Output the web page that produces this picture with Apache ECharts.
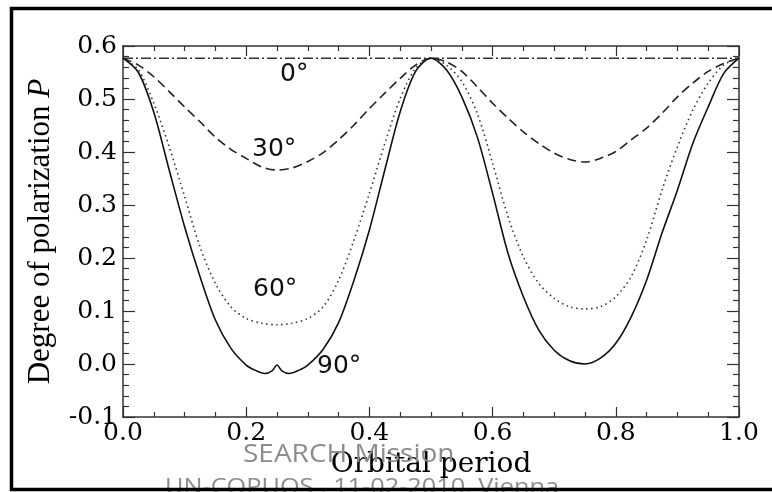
<!DOCTYPE html>
<html>
<head>
<meta charset="utf-8">
<script src="https://cdn.jsdelivr.net/npm/echarts@6/dist/echarts.min.js"></script>
<style>
html,body{margin:0;padding:0;background:#fff;}
#chart{width:772px;height:492px;}
</style>
</head>
<body>
<div id="chart"></div>
<script>
// ---- data ----
var phase = [0,0.025,0.05,0.075,0.1,0.125,0.15,0.175,0.2,0.225,0.25,0.275,0.3,0.325,0.35,0.375,0.4,0.425,0.45,0.475,0.5,
             0.525,0.55,0.575,0.6,0.625,0.65,0.675,0.7,0.725,0.75,0.775,0.8,0.825,0.85,0.875,0.9,0.925,0.95,0.975,1.0];
var p0  = [0.577,0.577,0.577,0.577,0.577,0.577,0.577,0.577,0.577,0.577,0.577,0.577,0.577,0.577,0.577,0.577,0.577,0.577,0.577,0.577,0.577,
           0.577,0.577,0.577,0.577,0.577,0.577,0.577,0.577,0.577,0.577,0.577,0.577,0.577,0.577,0.577,0.577,0.577,0.577,0.577,0.577];
var p30 = [0.577,0.564,0.542,0.514,0.485,0.457,0.428,0.405,0.388,0.372,0.366,0.370,0.382,0.399,0.423,0.451,0.482,0.511,0.539,0.564,0.577,
           0.570,0.552,0.523,0.492,0.464,0.438,0.416,0.398,0.386,0.381,0.388,0.401,0.423,0.445,0.473,0.504,0.530,0.552,0.567,0.577];
var p60 = [0.577,0.555,0.492,0.410,0.316,0.221,0.152,0.108,0.086,0.077,0.074,0.077,0.086,0.108,0.158,0.234,0.322,0.416,0.501,0.558,0.577,
           0.564,0.533,0.473,0.379,0.278,0.202,0.152,0.124,0.108,0.104,0.108,0.127,0.165,0.234,0.328,0.410,0.479,0.530,0.564,0.577];
var phase90 = [0,0.025,0.05,0.075,0.1,0.125,0.15,0.175,0.2,0.215,0.23,0.242,0.25,0.258,0.27,0.285,0.3,0.325,0.35,0.375,0.4,0.425,0.45,0.475,0.5,
               0.525,0.55,0.575,0.6,0.625,0.65,0.675,0.7,0.725,0.75,0.775,0.8,0.825,0.85,0.875,0.9,0.925,0.95,0.975,1.0];
var p90 = [0.577,0.550,0.475,0.366,0.259,0.165,0.083,0.030,-0.002,-0.012,-0.018,-0.013,-0.002,-0.013,-0.018,-0.012,-0.002,0.028,0.078,0.158,0.253,0.366,0.476,0.552,0.577,
           0.555,0.504,0.429,0.322,0.209,0.127,0.064,0.026,0.006,0.000,0.011,0.039,0.089,0.158,0.247,0.328,0.416,0.485,0.548,0.577];
var xTicks = {min: 0, max: 1, step: 0.2};
var yTicks = {min: -0.1, max: 0.6, step: 0.1};
var curveLabels = ['0°', '30°', '60°', '90°'];
var xTitle = 'Orbital period';
var yTitle = 'Degree of polarization ';
var yTitleItalic = 'P';
var footer1 = 'SEARCH Mission';
var footer2 = 'UN-COPUOS , 11-02-2010, Vienna';

function pairs(xs, ys){ return xs.map(function(x,i){ return [x, ys[i]]; }); }

var chart = echarts.init(document.getElementById('chart'), null, {renderer:'canvas'});
var serif = 'DejaVu Serif';
var axisCol = '#333';

var baseX = {
  type:'value', min:xTicks.min, max:xTicks.max, interval:xTicks.step,
  axisLine:{show:true, onZero:false, lineStyle:{color:axisCol, width:1.5}},
  axisTick:{show:true, inside:true, length:10, lineStyle:{color:axisCol, width:1.2}},
  minorTick:{show:true, splitNumber:4, length:5, lineStyle:{color:axisCol, width:1.2}},
  splitLine:{show:false}
};
var baseY = {
  type:'value', min:yTicks.min, max:yTicks.max, interval:yTicks.step,
  axisLine:{show:true, onZero:false, lineStyle:{color:axisCol, width:1.5}},
  axisTick:{show:true, inside:true, length:12, lineStyle:{color:axisCol, width:1.2}},
  minorTick:{show:true, splitNumber:5, length:6, lineStyle:{color:axisCol, width:1.2}},
  splitLine:{show:false}
};

var option = {
  backgroundColor:'#fff',
  animation:false,
  grid:{left:123, right:33, top:46, bottom:75, containLabel:false},
  xAxis:[
    Object.assign({}, baseX, {
      position:'bottom',
      axisLabel:{show:true, margin:4, fontFamily:serif, fontSize:25, color:'#000',
                 formatter:function(v){ return v.toFixed(1); }},
      name:xTitle, nameLocation:'middle', nameGap:24,
      nameTextStyle:{fontFamily:serif, fontSize:28, color:'#000'}
    }),
    Object.assign({}, baseX, {position:'top', axisLabel:{show:false}})
  ],
  yAxis:[
    Object.assign({}, baseY, {
      position:'left',
      axisLabel:{show:true, margin:6, fontFamily:serif, fontSize:25, color:'#000',
                 formatter:function(v){ return v.toFixed(1); }},
      name:'{n|' + yTitle + '}{i|' + yTitleItalic + '}', nameLocation:'middle', nameGap:67, nameRotate:90,
      nameTextStyle:{rich:{
        n:{fontFamily:'Liberation Serif', fontSize:31, color:'#000'},
        i:{fontFamily:'Liberation Serif', fontSize:31, fontStyle:'italic', color:'#000'}
      }}
    }),
    Object.assign({}, baseY, {position:'right', axisLabel:{show:false}})
  ],
  series:[
    {type:'line', name:curveLabels[0], data:pairs(phase,p0), showSymbol:false, symbol:'none',
     lineStyle:{color:'#333', width:1.6, type:[10,3,2,3]}},
    {type:'line', name:curveLabels[1], data:pairs(phase,p30), showSymbol:false, symbol:'none', smooth:0.3,
     lineStyle:{color:'#222', width:1.6, type:[9,5]}},
    {type:'line', name:curveLabels[2], data:pairs(phase,p60), showSymbol:false, symbol:'none', smooth:0.3,
     lineStyle:{color:'#333', width:1.6, type:[1.5,3.5]}},
    {type:'line', name:curveLabels[3], data:pairs(phase90,p90), showSymbol:false, symbol:'none', smooth:0.3,
     lineStyle:{color:'#111', width:1.6}}
  ],
  graphic:[
    {type:'text', left:280, top:62, style:{text:curveLabels[0], font:'25px "DejaVu Sans"', fill:'#111'}},
    {type:'text', left:252, top:137, style:{text:curveLabels[1], font:'25px "DejaVu Sans"', fill:'#111'}},
    {type:'text', left:253, top:277, style:{text:curveLabels[2], font:'25px "DejaVu Sans"', fill:'#111'}},
    {type:'text', left:317, top:354, style:{text:curveLabels[3], font:'25px "DejaVu Sans"', fill:'#111'}},
    {type:'text', x:243, y:442, scaleX:1.12, z:50, style:{text:footer1, font:'25px "Open Sans"', fill:'#8c8c8c'}},
    {type:'text', x:165, y:477, scaleX:1.15, z:50, style:{text:footer2, font:'22px "Open Sans"', fill:'#8c8c8c'}},
    {type:'polyline', z:100, shape:{points:[[780,8.5],[11.5,8.5],[11.5,489.5],[780,489.5]]},
     style:{fill:null, stroke:'#000', lineWidth:3.5}}
  ]
};
chart.setOption(option);
</script>
</body>
</html>
